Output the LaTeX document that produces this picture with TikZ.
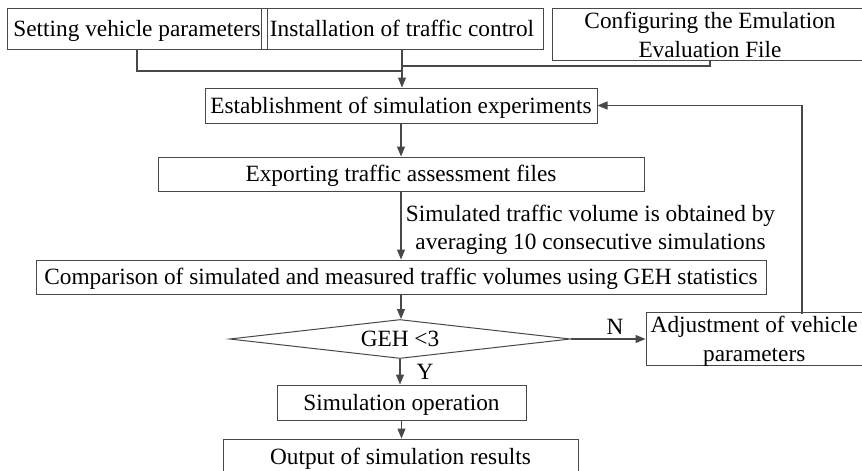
\documentclass[tikz,border=0pt]{standalone}
\usepackage{fontspec}
\setmainfont{Liberation Serif}
\usetikzlibrary{arrows.meta,shapes.geometric}
\definecolor{lc}{RGB}{72,72,72}
\begin{document}
\begin{tikzpicture}[x=1pt,y=-1pt,
  box/.style={draw=lc, line width=1pt, inner sep=0pt, text=black, align=center,
    font=\fontsize{23.3pt}{29pt}\selectfont},
  one/.style={box, text height=15.4pt, text depth=0pt},
  lab/.style={inner sep=0pt, text=black, align=center, font=\fontsize{23.3pt}{28pt}\selectfont},
  con/.style={draw=lc, line width=1.1pt},
  arr/.style={con, -{Triangle[length=10pt,width=8pt]}}]
\useasboundingbox (0,0) rectangle (862,471);
\clip (0,0) rectangle (862,471);
% top row
\node[one, minimum width=260pt, minimum height=41pt] (b1) at (137,28.5) {Setting vehicle parameters};
\node[one, minimum width=282pt, minimum height=41pt] (b2) at (402,28.5) {Installation of traffic control};
\node[box, minimum width=316pt, minimum height=52pt] (b3) at (710,34) {\rule{0pt}{19pt}Configuring the Emulation\\Evaluation File};
% main column
\node[one, minimum width=392pt, minimum height=35pt] (b4) at (401,105.5) {Establishment of simulation experiments};
\node[one, minimum width=486pt, minimum height=34pt] (b5) at (401,174) {Exporting traffic assessment files};
\node[one, minimum width=730pt, minimum height=34pt] (b6) at (401,277) {Comparison of simulated and measured traffic volumes using GEH statistics};
\node[diamond, draw=lc, line width=1pt, aspect=8.7, minimum width=341pt, minimum height=39pt, inner sep=0pt,
  font=\fontsize{23.3pt}{28pt}\selectfont, text height=15.4pt, text depth=0pt] (d) at (400,339) {GEH <3};
\node[one, minimum width=249pt, minimum height=35pt] (b7) at (401.5,402.5) {Simulation operation};
\node[one, minimum width=355pt, minimum height=36pt] (b8) at (400.5,457) {Output of simulation results};
\node[box, minimum width=216.5pt, minimum height=50pt] (b9) at (754.25,339) {\rule{0pt}{20pt}Adjustment of vehicle\\parameters};
% labels
\node[lab] (lbl) at (590.5,230) {Simulated traffic volume is obtained by\\averaging 10 consecutive simulations};
\node[lab, text height=15.4pt, text depth=0pt] (ly) at (425,372) {Y};
\node[lab, text height=15.4pt, text depth=0pt] (ln) at (615,327) {N};
% junction points
\coordinate (j1) at (402,71);
\coordinate (j3) at (402,66);
\coordinate (fb) at (802,314);
% connectors
\draw[con] (b1.south) |- (j1);
\draw[con] (b3.south) |- (j3);
\draw[arr] (b2.south) -- (b2.south |- b4.north);
\draw[arr] (b4.south) -- (b4.south |- b5.north);
\draw[arr] (b5.south) -- (b5.south |- b6.north);
\draw[arr] (b6.south) -- (b6.south |- d.north);
\draw[arr] (d.south) -- (d.south |- b7.north);
\draw[arr] (b7.south) -- (b7.south |- b8.north);
\draw[arr] (d.east) -- (b9.west);
\draw[arr] (fb) |- (b4.east);
\end{tikzpicture}
\end{document}
